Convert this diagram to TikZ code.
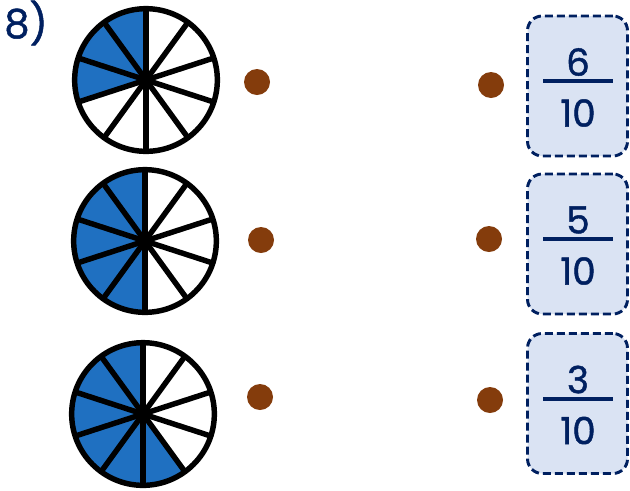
\documentclass[tikz,border=0pt]{standalone}
\usepackage{fontspec}
\setmainfont{Poppins}
\newfontfamily\navyfont{Poppins}[FakeBold=1.2]
\definecolor{pieblue}{RGB}{31,112,193}
\definecolor{dotbrown}{RGB}{132,60,12}
\definecolor{boxfill}{RGB}{218,227,243}
\definecolor{navy}{RGB}{0,32,96}
\tikzset{
  piecirc/.style={circle,draw=black,line width=4.1pt,minimum size=107pt,inner sep=0pt},
  spoke/.style={line width=4.1pt,black},
  dotnode/.style={circle,fill=dotbrown,minimum size=19.5pt,inner sep=0pt},
  fracbox/.style={rectangle,rounded corners=11pt,draw=navy,fill=boxfill,line width=2.2pt,
    dash pattern=on 6pt off 3pt,minimum width=75pt,minimum height=105pt,inner sep=0pt},
  fractext/.style={text=navy,font=\navyfont\fontsize{28}{30}\selectfont,inner sep=0pt},
  fracline/.style={draw=navy,line width=3pt},
  labeltext/.style={text=navy,font=\navyfont\fontsize{30}{32}\selectfont,inner sep=0pt}
}
\begin{document}
\begin{tikzpicture}[x=0.75pt,y=-0.75pt]
\useasboundingbox (0,0) rectangle (630,490);
\node[labeltext] (lbl) at (26,23) {8)};
% pies
\foreach \cx/\cy/\n/\nm in {146/80/3/pieA,145/241/5/pieB,143/414/6/pieC}{
  \begin{scope}[shift={(\cx,\cy)},y=0.75pt]
    \fill[pieblue] (0,0) -- (90:71) arc[start angle=90,end angle={90+36*\n},radius=71] -- cycle;
    \foreach \a in {18,54,...,342} \draw[spoke] (0,0) -- (\a:71);
    \fill[black] (0,0) circle[radius=4];
    \node[piecirc] (\nm) at (0,0) {};
  \end{scope}
}
% dots
\node[dotnode] (la) at (257,82) {};
\node[dotnode] (lb) at (261,240) {};
\node[dotnode] (lc) at (260,397) {};
\node[dotnode] (ra) at (491,85) {};
\node[dotnode] (rb) at (489,239) {};
\node[dotnode] (rc) at (490,400) {};
% fraction boxes
\foreach \cy/\num/\nm in {86/6/fA,244/5/fB,403.5/3/fC}{
  \node[fracbox] (\nm) at (577.5,\cy) {};
  \node[fractext] (\nm n) at (578,\cy-24) {\num};
  \node[fractext] (\nm d) at (578,\cy+27) {10};
  \coordinate (\nm l) at (543,\cy-5);
  \coordinate (\nm r) at (613,\cy-5);
  \draw[fracline] (\nm l) -- (\nm r);
}
\end{tikzpicture}
\end{document}
